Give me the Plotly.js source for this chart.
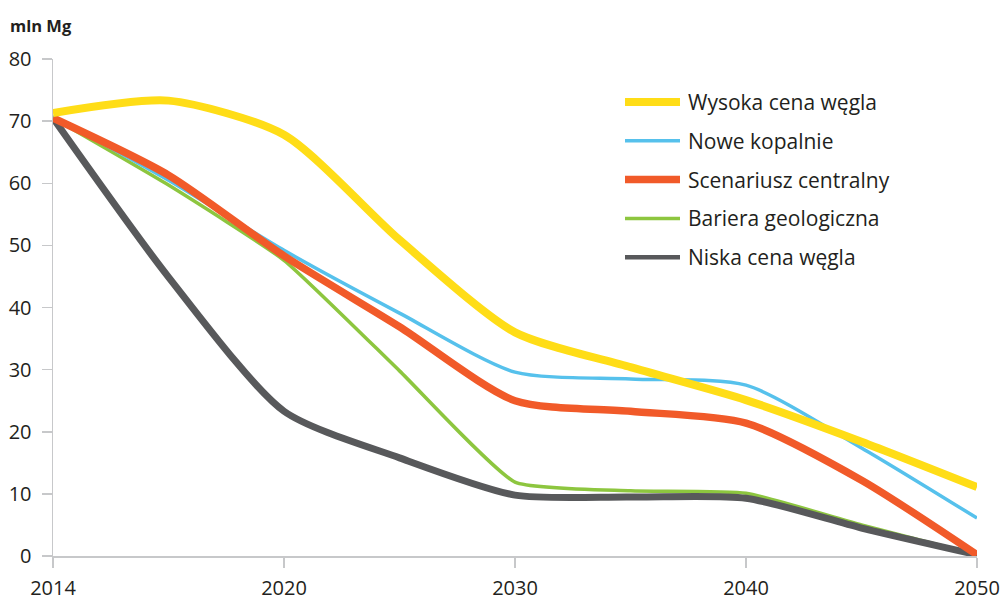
<!DOCTYPE html>
<html>
<head>
<meta charset="utf-8">
<script src="https://cdn.plot.ly/plotly-3.0.1.min.js"></script>
<style>html,body{margin:0;padding:0;background:#fff;}#chart{width:1005px;height:600px;}</style>
</head>
<body>
<div id="chart"></div>
<script>
// Categories (only some are labelled on the axis)
const years = ['2014', '2015', '2020', '2025', '2030', '2035', '2040', '2045', '2050'];
const tickYears = ['2014', '2020', '2030', '2040', '2050'];

// Series values (mln Mg)
const wysokaCena   = [71.3, 73.3, 67.8, 50.9, 36.0, 30.4, 25.1, 18.4, 11.1];
const noweKopalnie = [70.8, 60.5, 49.2, 39.1, 29.6, 28.5, 27.5, 17.4, 6.1];
const centralny    = [70.5, 61.3, 48.3, 36.9, 25.0, 23.3, 21.4, 12.2, 0.2];
const bariera      = [70.5, 59.7, 47.6, 29.8, 11.9, 10.5, 10.1, 5.0, 0.2];
const niskaCena    = [70.5, 44.9, 23.3, 15.8, 9.8, 9.5, 9.3, 4.5, 0.2];

const seriesNames = ['Wysoka cena węgla', 'Nowe kopalnie', 'Scenariusz centralny', 'Bariera geologiczna', 'Niska cena węgla'];
const seriesData = [wysokaCena, noweKopalnie, centralny, bariera, niskaCena];
const colors = ['#FFDD17', '#56C1EC', '#F15A29', '#8DC63F', '#58595B'];
const widths = [8, 3.5, 7.5, 3.5, 7];
const legendWidths = [8, 3.5, 7.5, 3.5, 4.5];
const smooth = [0.7, 0.7, 0.7, 0.45, 0.7];

// draw order: bottom first
const drawOrder = [3, 4, 1, 2, 0];
const traces = drawOrder.map(i => ({
  type: 'scatter', mode: 'lines', name: seriesNames[i],
  x: years, y: seriesData[i],
  line: {color: colors[i], width: widths[i], shape: 'spline', smoothing: smooth[i]},
  hoverinfo: 'x+y+name'
}));

const L = 53, R = 977, T = 59, B = 556;
const pw = R - L, ph = B - T;
const px = v => (v - L) / pw;
const py = v => (B - v) / ph;

const shapes = [];
const annotations = [];
seriesNames.forEach((n, i) => {
  const yy = 102 + i * 38.8;
  shapes.push({type: 'line', xref: 'paper', yref: 'paper',
    x0: px(625), x1: px(680), y0: py(yy), y1: py(yy),
    line: {color: colors[i], width: legendWidths[i]}});
  annotations.push({xref: 'paper', yref: 'paper', x: px(686), y: py(yy),
    xanchor: 'left', yanchor: 'middle', text: n, showarrow: false,
    font: {size: 21, color: '#231F20', family: 'Open Sans, sans-serif'}});
});
annotations.push({xref: 'paper', yref: 'paper', x: px(8), y: py(25),
  xanchor: 'left', yanchor: 'middle', text: '<b>mln Mg</b>', showarrow: false,
  font: {size: 16.5, color: '#231F20', family: 'Open Sans, sans-serif'}});

const layout = {
  width: 1005, height: 600,
  margin: {l: L, r: 1005 - R, t: T, b: 600 - B},
  paper_bgcolor: '#fff', plot_bgcolor: '#fff',
  showlegend: false,
  font: {family: 'Open Sans, sans-serif', color: '#231F20', size: 20},
  xaxis: {
    type: 'category', categoryorder: 'array', categoryarray: years,
    range: [0, years.length - 1],
    tickmode: 'array', tickvals: tickYears, ticktext: tickYears,
    showgrid: false, zeroline: false,
    showline: true, linecolor: '#C7C8CA', linewidth: 1.5,
    ticks: 'outside', ticklen: 10, tickcolor: '#C7C8CA', tickwidth: 1.5,
    tickfont: {size: 20, color: '#231F20'}, ticklabelstandoff: 3
  },
  yaxis: {
    range: [0, 80], dtick: 10, tick0: 0,
    showgrid: false, zeroline: false,
    showline: true, linecolor: '#C7C8CA', linewidth: 1.5,
    ticks: 'outside', ticklen: 10, tickcolor: '#C7C8CA', tickwidth: 1.5,
    tickfont: {size: 20, color: '#231F20'}, ticklabelstandoff: 6
  },
  shapes: shapes,
  annotations: annotations
};

Plotly.newPlot('chart', traces, layout, {displayModeBar: false, staticPlot: true});
</script>
</body>
</html>
